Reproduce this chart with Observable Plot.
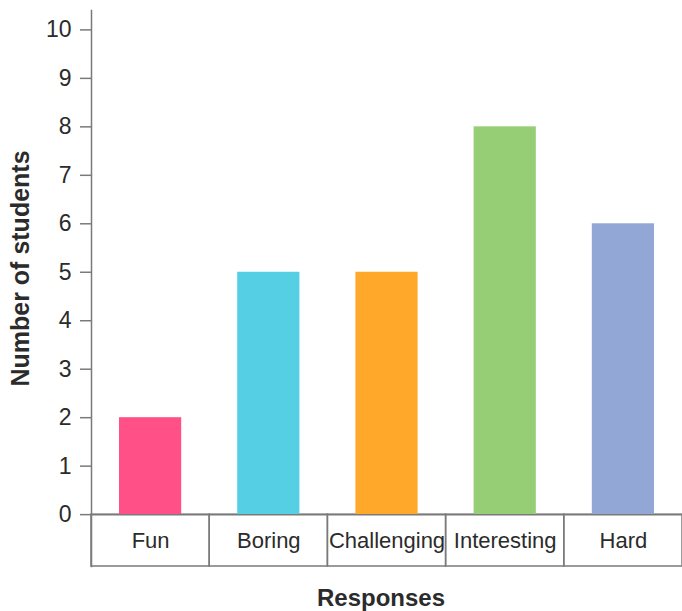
<!DOCTYPE html>
<html><head><meta charset="utf-8">
<script src="https://cdn.jsdelivr.net/npm/d3@7"></script>
<script src="https://cdn.jsdelivr.net/npm/@observablehq/plot@0.6"></script>
<style>body{margin:0;background:#fff}</style>
</head><body><div id="chart"></div>
<script>
const categories = ["Fun", "Boring", "Challenging", "Interesting", "Hard"];
const counts = [2, 5, 5, 8, 6];
const barColors = ["#ff5187", "#55cfe3", "#ffa82a", "#96ce76", "#93a7d6"];
const yTicks = [0, 1, 2, 3, 4, 5, 6, 7, 8, 9, 10];
const xTitle = "Responses";
const yTitle = "Number of students";

const data = categories.map((c, i) => ({response: c, count: counts[i], color: barColors[i]}));
const yDomain = [-1.07, 10.4];
const gray = "#7a7a7a";
const ink = "#2b2b2b";
const font = "'Liberation Sans', Arial, sans-serif";

const chart = Plot.plot({
  width: 682,
  height: 611,
  marginLeft: 91,
  marginRight: 0,
  marginTop: 10,
  marginBottom: 45,
  style: {fontFamily: font, background: "#fff"},
  x: {domain: categories, padding: 0, round: false, axis: null},
  y: {domain: yDomain, axis: null},
  marks: [
    Plot.barY(data, {x: "response", y1: yDomain[0], y2: 0, fill: "none", stroke: gray, strokeWidth: 1.5, inset: 0}),
    Plot.barY(data, {x: "response", y: "count", fill: "color", insetLeft: 28, insetRight: 28}),
    Plot.ruleY([0], {stroke: gray, strokeWidth: 1.5}),
    Plot.frame({anchor: "left", stroke: gray, strokeWidth: 1.5}),
    Plot.axisY({ticks: yTicks, tickSize: 11, tickPadding: 9, tickFormat: d => d, fontSize: 23, color: ink, stroke: gray, strokeWidth: 1.5, label: null}),
    Plot.text(data, {x: "response", y: yDomain[0] / 2, text: "response", fontSize: 22, fill: ink, lineAnchor: "middle"}),
    Plot.text([xTitle], {frameAnchor: "bottom", dy: 32, text: d => d, fontSize: 24, fontWeight: "bold", fill: ink, lineAnchor: "middle", dx: -6}),
    Plot.text([yTitle], {frameAnchor: "left", dx: -71, dy: -20, rotate: -90, textAnchor: "middle", text: d => d, fontSize: 25, fontWeight: "bold", fill: ink, lineAnchor: "middle"})
  ]
});
document.getElementById("chart").appendChild(chart);
</script>
</body></html>
